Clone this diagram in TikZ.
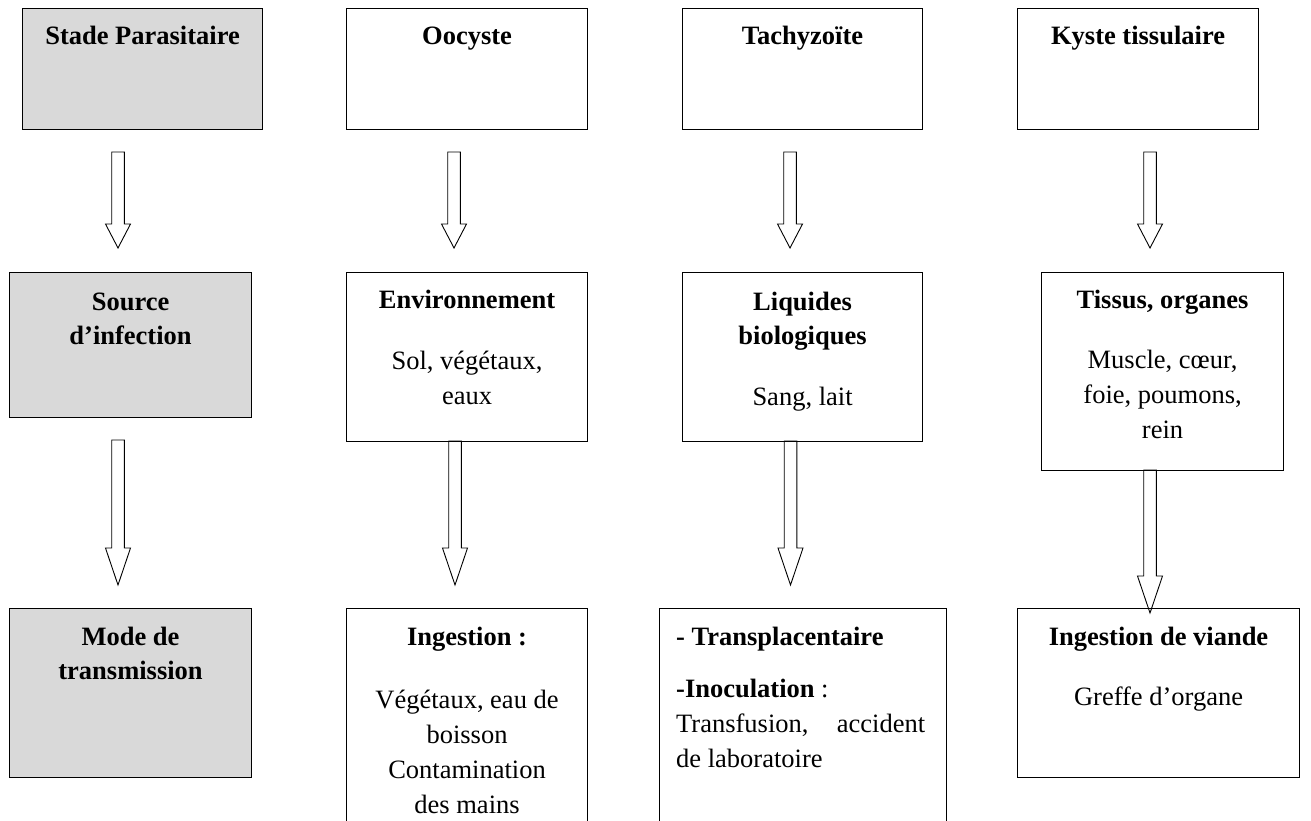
\documentclass[tikz,border=0pt]{standalone}
\usepackage{fontspec}
\setmainfont{Liberation Serif}
\usetikzlibrary{calc, positioning}
\definecolor{shade}{RGB}{217,217,217}

\begin{document}
\begin{tikzpicture}[x=1pt, y=-1pt,
  cell/.style={draw, line width=1.1pt, inner sep=0pt, anchor=north west},
  grey/.style={cell, fill=shade},
  head/.style={inner sep=0pt, anchor=base, text width=236pt, align=flush center, font=\bfseries\fontsize{26.5}{34}\selectfont},
  body/.style={inner sep=0pt, anchor=base, text width=236pt, align=flush center, font=\fontsize{26.5}{35}\selectfont},
  hollow/.style={line width=.9pt, to path={let \p1=(\tikztostart), \p2=(\tikztotarget) in
    (\x1-6.3pt,\y1) -- (\x1+6.3pt,\y1) -- (\x1+6.3pt,\y2+#1) -- (\x1+12.5pt,\y2+#1)
    -- (\x2,\y2) -- (\x1-12.5pt,\y2+#1) -- (\x1-6.3pt,\y2+#1) -- cycle}},
  hollow/.default=24pt]

\fill[white] (0,0) rectangle (1311,820);
\useasboundingbox (0,0) rectangle (1311,820);
\clip (0,0) rectangle (1311,820);

% parasite stages
\node[grey, minimum width=240pt, minimum height=121pt] (stade) at (22,8) {};
\node[cell, minimum width=241pt, minimum height=121pt] (oocyste) at (346,8) {};
\node[cell, minimum width=240pt, minimum height=121pt] (tachy) at (682,8) {};
\node[cell, minimum width=241pt, minimum height=121pt] (kyste) at (1017,8) {};
\node[head] (stadet) at ([yshift=-36pt]stade.north) {Stade Parasitaire};
\node[head] (oocystet) at ([yshift=-36pt]oocyste.north) {Oocyste};
\node[head] (tachyt) at ([yshift=-36pt]tachy.north) {Tachyzoïte};
\node[head] (kystet) at ([yshift=-36pt]kyste.north) {Kyste tissulaire};

% sources of infection
\node[grey, minimum width=242pt, minimum height=145pt] (source) at (9,272) {};
\node[cell, minimum width=241pt, minimum height=169pt] (env) at (346,272) {};
\node[cell, minimum width=240pt, minimum height=169pt] (liq) at (682,272) {};
\node[cell, minimum width=242pt, minimum height=198pt] (tissus) at (1041,272) {};
\node[head] (sourcet) at ([yshift=-38pt]source.north) {Source\\d’infection};
\node[head] (envt) at ([yshift=-36pt]env.north) {Environnement};
\node[body] (envb) at ([yshift=-97pt]env.north) {Sol, végétaux,\\eaux};
\node[head] (liqt) at ([yshift=-38pt]liq.north) {Liquides\\biologiques};
\node[body] (liqb) at ([yshift=-133pt]liq.north) {Sang, lait};
\node[head] (tissust) at ([yshift=-36pt]tissus.north) {Tissus, organes};
\node[body] (tissusb) at ([yshift=-96pt]tissus.north) {Muscle, cœur,\\foie, poumons,\\rein};

% modes of transmission
\node[grey, minimum width=242pt, minimum height=169pt] (mode) at (9,608) {};
\node[cell, minimum width=241pt, minimum height=240pt] (ingest) at (346,608) {};
\node[cell, minimum width=287pt, minimum height=240pt] (transp) at (659,608) {};
\node[cell, minimum width=282pt, minimum height=169pt] (viande) at (1017,608) {};
\node[head] (modet) at ([yshift=-37pt]mode.north) {Mode de\\transmission};
\node[head] (ingestt) at ([yshift=-37pt]ingest.north) {Ingestion :};
\node[body] (ingestb) at ([yshift=-100pt]ingest.north) {Végétaux, eau de\\boisson\\Contamination\\des mains};
\node[head, anchor=base west, align=flush left, text width=249pt] (transpt) at ([xshift=17pt, yshift=-37pt]transp.north west) {- Transplacentaire};
\node[body, anchor=base west, align=flush left, text width=249pt] (transpb) at ([xshift=17pt, yshift=-89pt]transp.north west)
  {\textbf{-Inoculation} :\\Transfusion,\hfill accident\\de laboratoire};
\node[head] (viandet) at ([yshift=-37pt]viande.north) {Ingestion de viande};
\node[body] (viandeb) at ([yshift=-97pt]viande.north) {Greffe d’organe};

% arrows stage -> source
\foreach \k/\x in {1/118, 2/454, 3/790, 4/1150} {
  \coordinate (a\k) at (\x,152);
  \coordinate (b\k) at (\x,248);
  \draw[hollow] (a\k) to (b\k);
}

% arrows source -> mode
\foreach \k/\x/\t/\e in {1/118/440/585, 2/455/441/585, 3/790.5/441/585, 4/1150/470/613} {
  \coordinate (c\k) at (\x,\t);
  \coordinate (d\k) at (\x,\e);
  \draw[hollow=37pt] (c\k) to (d\k);
}

\end{tikzpicture}
\end{document}
